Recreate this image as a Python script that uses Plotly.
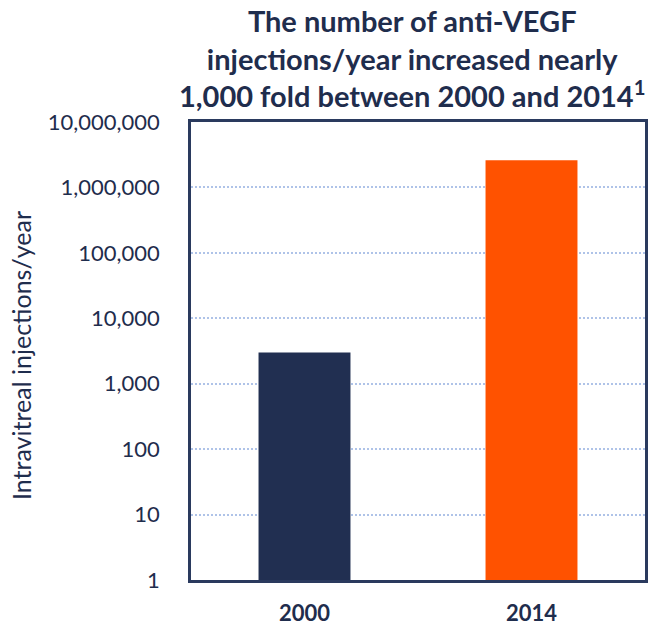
import plotly.graph_objects as go

# Intravitreal anti-VEGF injections per year
years = ["2000", "2014"]
injections = [3000, 2600000]
bar_colors = ["#212F51", "#FF5200"]

tick_vals = [1, 10, 100, 1000, 10000, 100000, 1000000, 10000000]
tick_text = ["1", "10", "100", "1,000", "10,000", "100,000", "1,000,000", "10,000,000"]

title_lines = [
    "The number of anti-VEGF",
    "injections/year increased nearly",
    "1,000 fold between 2000 and 2014<sup>1</sup>",
]
y_title = "Intravitreal injections/year"

navy = "#1F2D4D"
frame = "#2A3A5E"
font_family = "Lato"

W, H = 650, 627
M_L, M_R, M_T, M_B = 191, 5, 122, 47
plot_h = H - M_T - M_B

fig = go.Figure(
    go.Bar(
        x=years,
        y=injections,
        marker=dict(color=bar_colors, line=dict(width=0)),
        hoverinfo="x+y",
    )
)

fig.update_layout(
    width=W,
    height=H,
    margin=dict(l=M_L, r=M_R, t=M_T, b=M_B),
    paper_bgcolor="white",
    plot_bgcolor="white",
    bargap=0.595,
    showlegend=False,
    font=dict(family=font_family, color=navy),
)

# Three-line bold heading above the frame
fig.add_annotation(
    text="<br>".join(title_lines),
    xref="paper",
    yref="paper",
    x=(412 - M_L) / (W - M_L - M_R),
    y=1 + (M_T - 1) / plot_h,
    xanchor="center",
    yanchor="top",
    showarrow=False,
    align="center",
    font=dict(family=font_family, size=29, color=navy, weight="bold"),
)

# Vertical axis title
fig.add_annotation(
    text=y_title,
    xref="paper",
    yref="paper",
    x=-(M_L - 21) / (W - M_L - M_R),
    y=(H - M_B - 356) / plot_h,
    xanchor="center",
    yanchor="middle",
    textangle=-90,
    showarrow=False,
    font=dict(family=font_family, size=25, color=navy),
)

fig.update_yaxes(
    type="log",
    range=[0, 7],
    tickvals=tick_vals,
    ticktext=tick_text,
    tickfont=dict(family=font_family, size=22, color=navy),
    ticks="",
    ticklabelstandoff=24,
    showgrid=True,
    gridcolor="#AFC3E8",
    gridwidth=2,
    griddash="2px,2px",
    zeroline=False,
    showline=True,
    linecolor=frame,
    linewidth=2.5,
    mirror=True,
    automargin=False,
)

fig.update_xaxes(
    tickfont=dict(family=font_family, size=22, color=navy, weight="bold"),
    ticks="",
    ticklabelstandoff=12,
    showgrid=False,
    showline=True,
    linecolor=frame,
    linewidth=2.5,
    mirror=True,
    automargin=False,
)

fig.write_html("out.html")
